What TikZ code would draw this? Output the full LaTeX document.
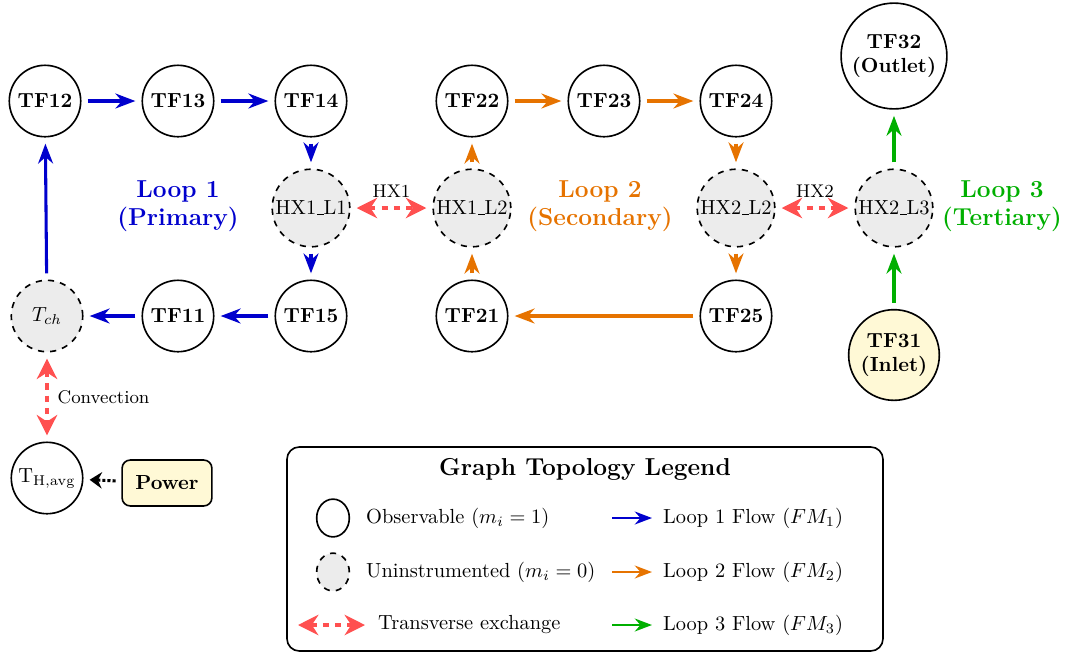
\documentclass[tikz,border=0pt]{standalone}
\usepackage{amsmath}
\usepackage{amssymb}
\usepackage{tikz}
\usetikzlibrary{arrows.meta,positioning,shapes.geometric}

\definecolor{loopone}{RGB}{0,0,205}
\definecolor{looptwo}{RGB}{230,115,0}
\definecolor{loopthree}{RGB}{0,175,0}
\definecolor{xred}{RGB}{255,80,80}
\definecolor{inletyel}{RGB}{255,249,214}
\newcommand{\usbar}{\leavevmode\kern.06em\vbox{\hrule width.3em}}

\begin{document}
\begin{tikzpicture}[x=0.49pt,y=-0.49pt,
	obs/.style={circle,draw,thick,minimum size=35pt,inner sep=2pt,font=\bfseries,align=center},
	hidden/.style={circle,draw,thick,dashed,fill=gray!15,minimum size=35pt,inner sep=0.5pt},
	hx/.style={hidden,minimum size=38pt},
	flow/.style={-Stealth,line width=1.5pt,shorten >=3pt,shorten <=3pt},
	xchg/.style={{Stealth[length=10pt,width=10pt]}-{Stealth[length=10pt,width=10pt]},line width=1.8pt,dashed,xred,shorten >=3pt,shorten <=3pt},
	looplabel/.style={font=\large\bfseries,align=center}]
\useasboundingbox (0,0) rectangle (1065,654);

% loop 1
\node [obs] (tf12) at (45,101) {TF12};
\node [obs] (tf13) at (178,101) {TF13};
\node [obs] (tf14) at (311,101) {TF14};
\node [hx] (hx1l1) at (311,208) {HX1\usbar L1};
\node [obs] (tf15) at (311,316) {TF15};
\node [obs] (tf11) at (178,316) {TF11};
\node [hidden] (tch) at (47,316) {$T_{ch}$};
\node [looplabel,loopone] (lbl1) at (178,206) {Loop 1\\(Primary)};

% loop 2
\node [hx] (hx1l2) at (472,208) {HX1\usbar L2};
\node [obs] (tf22) at (472,101) {TF22};
\node [obs] (tf23) at (604,101) {TF23};
\node [obs] (tf24) at (736,101) {TF24};
\node [hx] (hx2l2) at (736,208) {HX2\usbar L2};
\node [obs] (tf25) at (736,316) {TF25};
\node [obs] (tf21) at (472,316) {TF21};
\node [looplabel,looptwo] (lbl2) at (600,206) {Loop 2\\(Secondary)};

% loop 3
\node [hx] (hx2l3) at (894,208) {HX2\usbar L3};
\node [obs] (tf32) at (894,56) {TF32\\(Outlet)};
\node [obs,fill=inletyel] (tf31) at (894,355) {TF31\\(Inlet)};
\node [looplabel,loopthree] (lbl3) at (1002,206) {Loop 3\\(Tertiary)};

% heater
\node [obs,font=\normalfont] (thavg) at (47,478) {$\mathrm{T}_{\mathrm{H,avg}}$};
\node [draw,thick,rounded corners=4pt,fill=inletyel,font=\bfseries,minimum width=44pt,minimum height=22.5pt] (power) at (167,483) {Power};

\draw [flow,loopone] (tf12) -- (tf13);
\draw [flow,loopone] (tf13) -- (tf14);
\draw [flow,loopone] (tf14) -- (hx1l1);
\draw [flow,loopone] (hx1l1) -- (tf15);
\draw [flow,loopone] (tf15) -- (tf11);
\draw [flow,loopone] (tf11) -- (tch);
\draw [flow,loopone] (tch) -- (tf12);

\draw [flow,looptwo] (tf22) -- (tf23);
\draw [flow,looptwo] (tf23) -- (tf24);
\draw [flow,looptwo] (tf24) -- (hx2l2);
\draw [flow,looptwo] (hx2l2) -- (tf25);
\draw [flow,looptwo] (tf25) -- (tf21);
\draw [flow,looptwo] (tf21) -- (hx1l2);
\draw [flow,looptwo] (hx1l2) -- (tf22);

\draw [flow,loopthree] (tf31) -- (hx2l3);
\draw [flow,loopthree] (hx2l3) -- (tf32);

\draw [xchg] (hx1l1) -- node [above=1pt,black,font=\small] {HX1} (hx1l2);
\draw [xchg] (hx2l2) -- node [above=1pt,black,font=\small] {HX2} (hx2l3);
\draw [xchg] (tch) -- node [right=1pt,black,font=\small] {Convection} (thavg);
\draw [{Stealth[length=6pt,width=8pt]}-,densely dotted,line width=1.5pt,shorten >=2pt,shorten <=3pt] (thavg) -- (power);

% legend
\draw [thick,rounded corners=6pt] (287,447) rectangle (883,651);
\node [font=\large\bfseries] (legtitle) at (585,469) {Graph Topology Legend};
\node [ellipse,draw,thick,minimum width=16pt,minimum height=18.5pt] (legobs) at (333,518) {};
\node [anchor=west] (legobstxt) at (359,518) {Observable ($m_i = 1$)};
\node [ellipse,draw,thick,dashed,fill=gray!15,minimum width=16pt,minimum height=18.5pt] (leghid) at (333,572) {};
\node [anchor=west] (leghidtxt) at (359,572) {Uninstrumented ($m_i = 0$)};
\coordinate (xa) at (298,625);
\coordinate (xb) at (365,625);
\draw [xchg,shorten >=0pt,shorten <=0pt] (xa) -- (xb);
\node [anchor=west] (legxtxt) at (371,625) {Transverse exchange};
\foreach \y/\c/\n in {518/loopone/1,572/looptwo/2,625/loopthree/3}{
	\coordinate (fa\n) at (612,\y);
	\coordinate (fb\n) at (652,\y);
	\draw [flow,\c,line width=1.2pt,shorten >=0pt,shorten <=0pt] (fa\n) -- (fb\n);
	\node [anchor=west] (legflow\n) at (656,\y) {Loop \n{} Flow ($FM_{\n}$)};
}
\end{tikzpicture}
\end{document}
